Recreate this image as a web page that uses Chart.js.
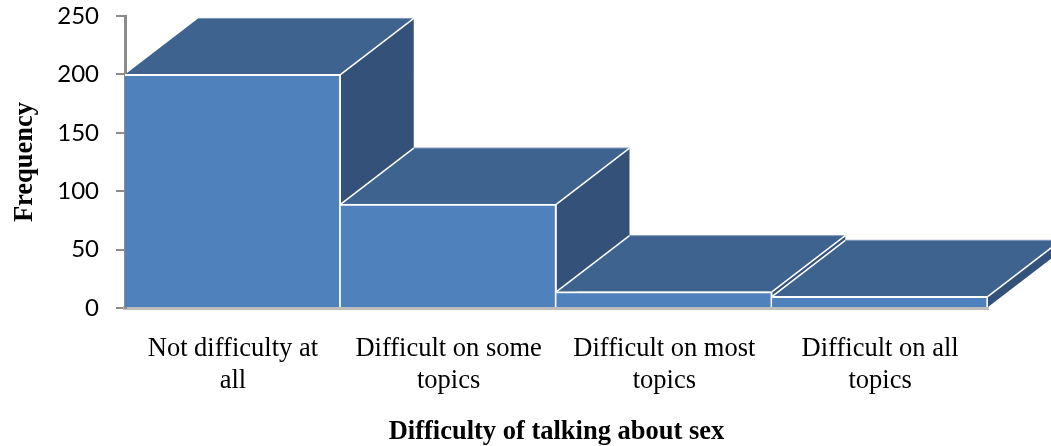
<!DOCTYPE html>
<html>
<head>
<meta charset="utf-8">
<title>Difficulty of talking about sex</title>
<script src="https://cdn.jsdelivr.net/npm/chart.js@4"></script>
<style>
    html, body { margin: 0; padding: 0; background: #fff; }
    #wrap { width: 1051px; height: 446px; overflow: hidden; }
</style>
</head>
<body>
<div id="wrap"><canvas id="difficultyGraph" width="1051" height="446"></canvas></div>
<script>
const categories = [
    ['Not difficulty at', 'all'],
    ['Difficult on some', 'topics'],
    ['Difficult on most', 'topics'],
    ['Difficult on all', 'topics']
];
const frequency = [200, 89, 14, 10];
const yTicks = [0, 50, 100, 150, 200, 250];

const DEPTH_X = 73;
const DEPTH_Y = 56;

function face(ctx, points, fill) {
    ctx.beginPath();
    points.forEach(function (p, i) {
        if (i === 0) ctx.moveTo(p[0], p[1]);
        else ctx.lineTo(p[0], p[1]);
    });
    ctx.closePath();
    ctx.fillStyle = fill;
    ctx.fill();
}

function edge(ctx, a, b, color, width) {
    ctx.beginPath();
    ctx.moveTo(a[0], a[1]);
    ctx.lineTo(b[0], b[1]);
    ctx.strokeStyle = color;
    ctx.lineWidth = width;
    ctx.stroke();
}

// Top and side faces of each column, painted left to right before the fronts
const depthFaces = {
    id: 'depthFaces',
    beforeDatasetsDraw: function (chart) {
        const ctx = chart.ctx;
        const bars = chart.getDatasetMeta(0).data;
        ctx.save();
        bars.forEach(function (bar, i) {
            const left = bar.x - bar.width / 2;
            const right = bar.x + bar.width / 2;
            const top = bar.y;
            const base = bar.base;

            face(ctx, [[right, top], [right + DEPTH_X, top - DEPTH_Y], [right + DEPTH_X, base - DEPTH_Y], [right, base]], '#345279');
            face(ctx, [[left, top], [left + DEPTH_X, top - DEPTH_Y], [right + DEPTH_X, top - DEPTH_Y], [right, top]], '#3e638f');

            edge(ctx, [left + DEPTH_X, top - DEPTH_Y], [right + DEPTH_X, top - DEPTH_Y], '#7f97b8', 1);
            edge(ctx, [right, top], [right + DEPTH_X, top - DEPTH_Y], '#ffffff', 1.5);
            // the first column has no neighbour to separate from on its left
            if (i > 0) {
                edge(ctx, [left, top], [left + DEPTH_X, top - DEPTH_Y], '#ffffff', 1.5);
            }
        });
        ctx.restore();
    }
};

new Chart(document.getElementById('difficultyGraph'), {
    type: 'bar',
    plugins: [depthFaces],
    data: {
        labels: categories,
        datasets: [
            {
                label: 'Frequency',
                data: frequency,
                backgroundColor: '#4f81bd',
                borderColor: '#ffffff',
                borderWidth: { top: 2, right: 2, left: 0, bottom: 0 },
                borderSkipped: false,
                categoryPercentage: 1,
                barPercentage: 1
            }
        ]
    },
    options: {
        responsive: false,
        animation: false,
        layout: {
            padding: { top: 16, right: 63, bottom: 0, left: 0 }
        },
        plugins: {
            legend: { display: false },
            tooltip: { enabled: false }
        },
        scales: {
            x: {
                afterFit: function (scale) { scale.height = 138; },
                grid: { display: false, drawTicks: false },
                border: { display: true, color: '#bdbdbd', width: 4 },
                ticks: {
                    color: '#000',
                    padding: 25,
                    maxRotation: 0,
                    autoSkip: false,
                    font: { family: '"Liberation Serif"', size: 26.5 }
                },
                title: {
                    display: true,
                    text: 'Difficulty of talking about sex',
                    color: '#000',
                    padding: { top: 15, bottom: -2 },
                    font: { family: '"Liberation Serif"', size: 26.5, weight: 'bold' }
                }
            },
            y: {
                min: 0,
                max: 250,
                // the top label may stick out above the plot
                afterFit: function (scale) {
                    scale.width = 125;
                    scale.paddingTop = 0;
                    scale.paddingBottom = 0;
                },
                afterBuildTicks: function (scale) {
                    scale.ticks = yTicks.map(function (v) { return { value: v }; });
                },
                grid: { drawOnChartArea: false, color: '#8c8c8c', tickLength: 9, lineWidth: 2 },
                border: { display: true, color: '#8c8c8c', width: 3 },
                ticks: {
                    color: '#000',
                    padding: 17,
                    font: { family: 'Lato', size: 24 }
                },
                title: {
                    display: true,
                    text: 'Frequency',
                    color: '#000',
                    padding: { top: 9, bottom: 0 },
                    font: { family: '"Liberation Serif"', size: 26.5, weight: 'bold' }
                }
            }
        }
    }
});
</script>
</body>
</html>
